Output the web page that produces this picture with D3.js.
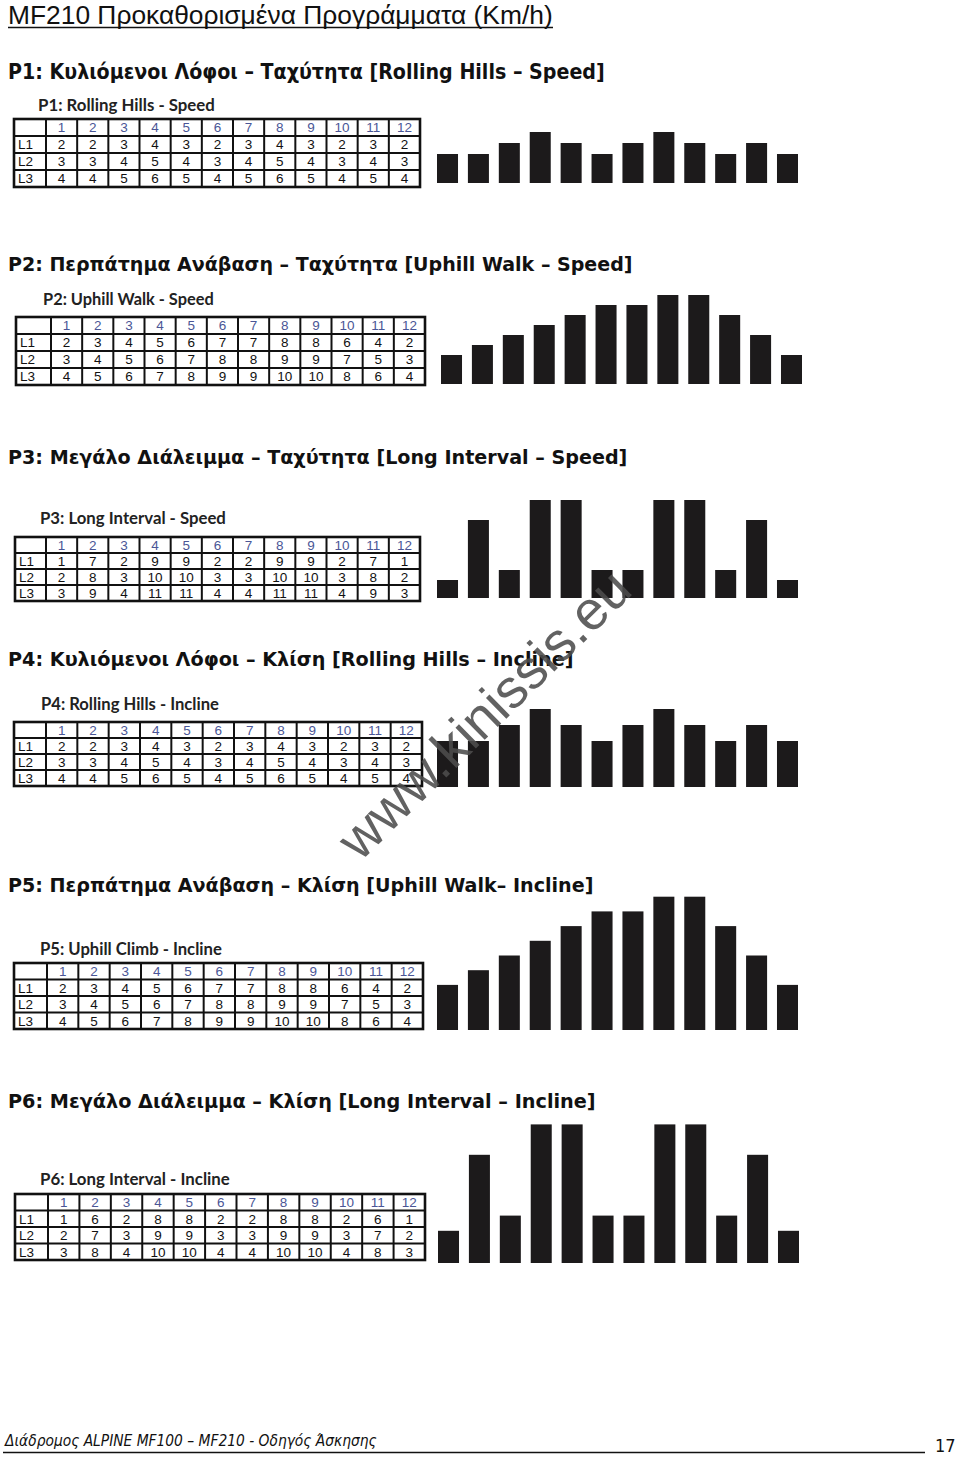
<!DOCTYPE html>
<html><head><meta charset="utf-8">
<script src="https://cdn.jsdelivr.net/npm/d3@7"></script>
<style>body{margin:0;background:#fff}svg{display:block}</style>
</head><body><svg id="c" width="960" height="1457"></svg>
<script>
// ---------- DATA ----------
const columns = [1,2,3,4,5,6,7,8,9,10,11,12];
const rowLabels = ["L1","L2","L3"];

const p1_L1 = [2,2,3,4,3,2,3,4,3,2,3,2];
const p1_L2 = [3,3,4,5,4,3,4,5,4,3,4,3];
const p1_L3 = [4,4,5,6,5,4,5,6,5,4,5,4];

const p2_L1 = [2,3,4,5,6,7,7,8,8,6,4,2];
const p2_L2 = [3,4,5,6,7,8,8,9,9,7,5,3];
const p2_L3 = [4,5,6,7,8,9,9,10,10,8,6,4];

const p3_L1 = [1,7,2,9,9,2,2,9,9,2,7,1];
const p3_L2 = [2,8,3,10,10,3,3,10,10,3,8,2];
const p3_L3 = [3,9,4,11,11,4,4,11,11,4,9,3];

const p4_L1 = [2,2,3,4,3,2,3,4,3,2,3,2];
const p4_L2 = [3,3,4,5,4,3,4,5,4,3,4,3];
const p4_L3 = [4,4,5,6,5,4,5,6,5,4,5,4];

const p5_L1 = [2,3,4,5,6,7,7,8,8,6,4,2];
const p5_L2 = [3,4,5,6,7,8,8,9,9,7,5,3];
const p5_L3 = [4,5,6,7,8,9,9,10,10,8,6,4];

const p6_L1 = [1,6,2,8,8,2,2,8,8,2,6,1];
const p6_L2 = [2,7,3,9,9,3,3,9,9,3,7,2];
const p6_L3 = [3,8,4,10,10,4,4,10,10,4,8,3];

const pageTitle = "MF210 Προκαθορισμένα Προγράμματα (Km/h)";
const headings = [
  "P1: Κυλιόμενοι Λόφοι – Ταχύτητα [Rolling Hills – Speed]",
  "P2: Περπάτημα Ανάβαση – Ταχύτητα [Uphill Walk – Speed]",
  "P3: Μεγάλο Διάλειμμα – Ταχύτητα [Long Interval – Speed]",
  "P4: Κυλιόμενοι Λόφοι – Κλίση [Rolling Hills – Incline]",
  "P5: Περπάτημα Ανάβαση – Κλίση [Uphill Walk– Incline]",
  "P6: Μεγάλο Διάλειμμα – Κλίση [Long Interval – Incline]"
];
const subtitles = [
  "P1: Rolling Hills - Speed",
  "P2: Uphill Walk - Speed",
  "P3: Long Interval - Speed",
  "P4: Rolling Hills - Incline",
  "P5: Uphill Climb - Incline",
  "P6: Long Interval - Incline"
];
const footerText = "Διάδρομος ALPINE MF100 – MF210 - Οδηγός Άσκησης";
const pageNumber = "17";
const watermark = "www.kinissis.eu";

const programs = [
  [p1_L1,p1_L2,p1_L3],
  [p2_L1,p2_L2,p2_L3],
  [p3_L1,p3_L2,p3_L3],
  [p4_L1,p4_L2,p4_L3],
  [p5_L1,p5_L2,p5_L3],
  [p6_L1,p6_L2,p6_L3]
];

// ---------- LAYOUT ----------
const layout = [
  {hb:79,  hw:597, hfont:'"DejaVu Sans Condensed","DejaVu Sans",sans-serif',
   sx:38, sb:111, sw:177,
   t:{x0:14,lx:46,x1:420,y0:119,y1:187},
   b:{x0:437,x1:798,bottom:183,unit:11,off:7}},
  {hb:271, hw:625, hfont:'"DejaVu Sans",sans-serif',
   sx:43, sb:305, sw:171,
   t:{x0:16,lx:51,x1:425,y0:317,y1:385},
   b:{x0:441,x1:802,bottom:384,unit:10,off:9}},
  {hb:464, hw:620, hfont:'"DejaVu Sans",sans-serif',
   sx:40, sb:524, sw:186,
   t:{x0:15,lx:46,x1:420,y0:537,y1:601},
   b:{x0:437,x1:798,bottom:598,unit:10,off:8}},
  {hb:666, hw:566, hfont:'"DejaVu Sans",sans-serif',
   sx:41, sb:710, sw:178,
   t:{x0:14,lx:46,x1:422,y0:722,y1:786},
   b:{x0:437,x1:798,bottom:787,unit:16,off:14}},
  {hb:892, hw:586, hfont:'"DejaVu Sans",sans-serif',
   sx:40, sb:955, sw:182,
   t:{x0:14,lx:47,x1:423,y0:963,y1:1029},
   b:{x0:437,x1:798,bottom:1030,unit:14.7,off:15.7}},
  {hb:1108, hw:588, hfont:'"DejaVu Sans",sans-serif',
   sx:40, sb:1185, sw:190,
   t:{x0:15,lx:48,x1:425,y0:1194,y1:1260},
   b:{x0:438,x1:799,bottom:1263,unit:15.2,off:17}}
];

const svg = d3.select("#c");

function fit(t, w){
  const cur = t.node().getComputedTextLength();
  const fs = parseFloat(t.attr("font-size"));
  if (cur > 0) t.attr("font-size", fs * w / cur);
}

// page title
const title = svg.append("text").attr("x",8).attr("y",24)
  .attr("font-family",'"Liberation Sans",Arial,sans-serif').attr("font-size",21)
  .attr("fill","#111").text(pageTitle);
fit(title, 545);
svg.append("line").attr("x1",8).attr("x2",553).attr("y1",27.5).attr("y2",27.5)
  .attr("stroke","#111").attr("stroke-width",1.4);

const barColor = "#1c1a1b";
const headColor = "#4a5696";

programs.forEach((rows, i) => {
  const L = layout[i];
  const g = svg.append("g");
  // heading
  const h = g.append("text").attr("x",8).attr("y",L.hb)
    .attr("font-family",L.hfont).attr("font-weight","bold")
    .attr("font-size",18).attr("fill","#111").text(headings[i]);
  fit(h, L.hw);
  // subtitle
  const s = g.append("text").attr("x",L.sx).attr("y",L.sb)
    .attr("font-family",'Lato,"Open Sans",sans-serif').attr("font-weight","bold")
    .attr("font-size",17).attr("fill","#222").text(subtitles[i]);
  fit(s, L.sw);

  // table
  const T = L.t;
  const x = d3.scaleBand().domain(columns).range([T.lx, T.x1]);
  const y = d3.scaleBand().domain(["h", ...rowLabels]).range([T.y0, T.y1]);
  const tg = g.append("g").attr("font-family",'"Liberation Sans",Arial,sans-serif')
    .attr("font-size",13.5).attr("text-anchor","middle");
  tg.selectAll("text.hd").data(columns).join("text").attr("class","hd")
    .attr("x", d => x(d) + x.bandwidth()/2)
    .attr("y", y("h") + y.bandwidth()/2).attr("dy","0.37em")
    .attr("fill", headColor).text(d => d);
  rowLabels.forEach((r, ri) => {
    tg.append("text").attr("x", T.x0 + 4).attr("text-anchor","start")
      .attr("y", y(r) + y.bandwidth()/2).attr("dy","0.37em")
      .attr("fill","#111").text(r);
    tg.selectAll("text.v"+ri).data(rows[ri]).join("text").attr("class","v"+ri)
      .attr("x", (d,j) => x(columns[j]) + x.bandwidth()/2)
      .attr("y", y(r) + y.bandwidth()/2).attr("dy","0.37em")
      .attr("fill","#111").text(d => d);
  });
  // grid
  const vx = [T.x0, T.lx, ...columns.map(c => x(c) + x.bandwidth())];
  const hy = [T.y0, ...["h", ...rowLabels].map(r => y(r) + y.bandwidth())];
  g.selectAll("line.v").data(vx).join("line").attr("class","v")
    .attr("x1", d => d).attr("x2", d => d).attr("y1", T.y0).attr("y2", T.y1)
    .attr("stroke","#111").attr("stroke-width",2);
  g.selectAll("line.h").data(hy).join("line").attr("class","h")
    .attr("x1", T.x0).attr("x2", T.x1).attr("y1", d => d).attr("y2", d => d)
    .attr("stroke","#111").attr("stroke-width",2);
  g.append("rect").attr("x",T.x0).attr("y",T.y0).attr("width",T.x1-T.x0).attr("height",T.y1-T.y0)
    .attr("fill","none").attr("stroke","#111").attr("stroke-width",2.6);

  // bars (L1 profile)
  const B = L.b;
  const vals = rows[0];
  const vmax = d3.max(vals);
  const bx = d3.scaleBand().domain(columns).range([B.x0, B.x1]).paddingInner(0.32).paddingOuter(0);
  const by = d3.scaleLinear().domain([-B.off / B.unit, vmax])
    .range([B.bottom, B.bottom - (B.unit * vmax + B.off)]);
  g.selectAll("rect.bar").data(vals).join("rect").attr("class","bar")
    .attr("x", (d,j) => bx(columns[j])).attr("width", bx.bandwidth())
    .attr("y", d => by(d)).attr("height", d => B.bottom - by(d))
    .attr("fill", barColor);
});

// watermark
const wm = svg.append("text")
  .attr("transform","translate(484,714) rotate(-44.5)")
  .attr("text-anchor","middle").attr("dominant-baseline","central")
  .attr("font-family",'"Liberation Sans",Arial,sans-serif')
  .attr("font-size",52).attr("fill","#4d4d4d").attr("opacity",0.88)
  .text(watermark);
fit(wm, 385);

// footer
const ft = svg.append("text").attr("x",5).attr("y",1446)
  .attr("font-family",'"DejaVu Sans Condensed","DejaVu Sans",sans-serif')
  .attr("font-style","italic").attr("font-size",15).attr("fill","#111").text(footerText);
fit(ft, 372);
svg.append("line").attr("x1",3).attr("x2",925).attr("y1",1452.5).attr("y2",1452.5)
  .attr("stroke","#111").attr("stroke-width",1.5);
svg.append("text").attr("x",935).attr("y",1452)
  .attr("font-family",'"DejaVu Sans Condensed","DejaVu Sans",sans-serif')
  .attr("font-size",18).attr("fill","#111").text(pageNumber);
</script></body></html>
